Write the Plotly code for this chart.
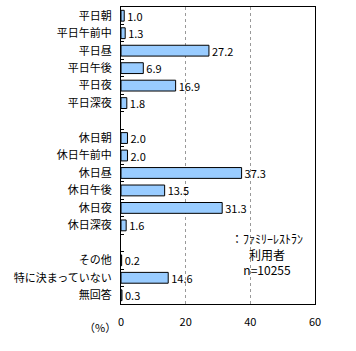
import plotly.graph_objects as go

categories = ["平日朝", "平日午前中", "平日昼", "平日午後", "平日夜", "平日深夜", " ",
              "休日朝", "休日午前中", "休日昼", "休日午後", "休日夜", "休日深夜", "  ",
              "その他", "特に決まっていない", "無回答"]
values = [1.0, 1.3, 27.2, 6.9, 16.9, 1.8, None,
          2.0, 2.0, 37.3, 13.5, 31.3, 1.6, None,
          0.2, 14.6, 0.3]
x_ticks = [0, 20, 40, 60]
note_lines = ["：ﾌｧﾐﾘｰﾚｽﾄﾗﾝ", "利用者", "n=10255"]
unit_label = "（%）"

FONT = "Noto Sans CJK JP"
labels = [("" if v is None else f"{v:.1f}") for v in values]

fig = go.Figure(go.Bar(
    x=values, y=categories, orientation="h",
    marker=dict(color="#99CCFF", line=dict(color="black", width=1)),
    width=0.62,
    text=labels, textposition="outside", cliponaxis=False,
    constraintext="none",
    textfont=dict(family=FONT, size=11, color="black"),
))

fig.update_layout(
    width=356, height=351,
    margin=dict(l=121, r=41, t=7, b=47),
    paper_bgcolor="white", plot_bgcolor="white",
    showlegend=False,
    font=dict(family=FONT, size=11, color="black"),
    bargap=0.38,
)
fig.update_xaxes(
    range=[0, 60], tickvals=x_ticks, showgrid=True,
    gridcolor="#999999", griddash="3px,3px", gridwidth=1,
    showline=True, linecolor="black", linewidth=1, mirror=True,
    zeroline=False, ticks="", ticklabelstandoff=8,
    tickfont=dict(family=FONT, size=11),
)
fig.update_yaxes(
    autorange="reversed", type="category",
    showline=True, linecolor="black", linewidth=1, mirror=True,
    ticks="inside", tickson="boundaries", ticklen=3, tickcolor="black",
    showgrid=False, ticklabelstandoff=6,
    tickfont=dict(family=FONT, size=11),
)
note_text = "<br>".join(note_lines)
fig.add_annotation(
    x=(267 - 121) / (315 - 121), xref="x domain",
    y=1 - (254 - 7) / (304 - 7), yref="y domain",
    text=note_text, showarrow=False, xanchor="center", yanchor="middle",
    align="center", font=dict(family=FONT, size=12))
fig.add_annotation(
    x=(100 - 121) / (315 - 121), xref="x domain",
    y=1 - (327 - 7) / (304 - 7), yref="y domain",
    text=unit_label, showarrow=False, xanchor="center", yanchor="middle",
    font=dict(family=FONT, size=11))

fig.write_html("out.html")
